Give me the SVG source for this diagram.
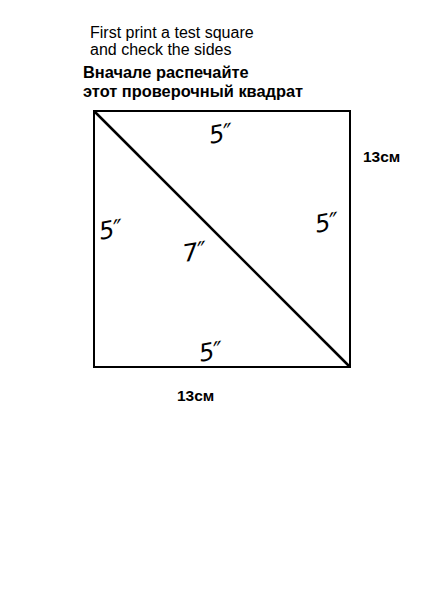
<svg xmlns="http://www.w3.org/2000/svg" width="434" height="596" viewBox="0 0 434 596">
<style>
.en{font-family:"Liberation Sans",Arial,sans-serif;font-size:16px;fill:#000}
.ru{font-family:"Liberation Sans",Arial,sans-serif;font-size:16.4px;font-weight:bold;fill:#000}
.cm{font-family:"Liberation Sans",Arial,sans-serif;font-size:15.5px;font-weight:bold;fill:#000}
.hw{font-family:"DejaVu Sans","Liberation Sans",sans-serif;font-style:italic;font-size:24px;fill:#000}
.ln{stroke:#000;fill:none}
</style>
<rect width="434" height="596" fill="#fff"/>
<g id="header">
<text class="en" x="90" y="38">First print a test square</text>
<text class="en" x="90" y="55">and check the sides</text>
<text class="ru" x="83" y="78">Вначале распечайте</text>
<text class="ru" x="83" y="97">этот проверочный квадрат</text>
</g>
<g id="connectors">
<rect class="ln" x="94" y="111" width="256" height="256" stroke-width="2"/>
<line class="ln" x1="94" y1="111" x2="350" y2="367" stroke-width="2.5"/>
</g>
<g id="labels">
<text class="hw" x="209" y="142" transform="rotate(-10 220 135)">5″</text>
<text class="hw" x="99" y="238" transform="rotate(-10 110 230)">5″</text>
<text class="hw" x="315" y="231" transform="rotate(-10 326 224)">5″</text>
<text class="hw" x="183" y="260" transform="rotate(-10 195 252)">7″</text>
<text class="hw" x="199" y="360" transform="rotate(-10 210 352)">5″</text>
</g>
<g id="dims">
<text class="cm" x="363" y="162">13см</text>
<text class="cm" x="177" y="401">13см</text>
</g>
</svg>
